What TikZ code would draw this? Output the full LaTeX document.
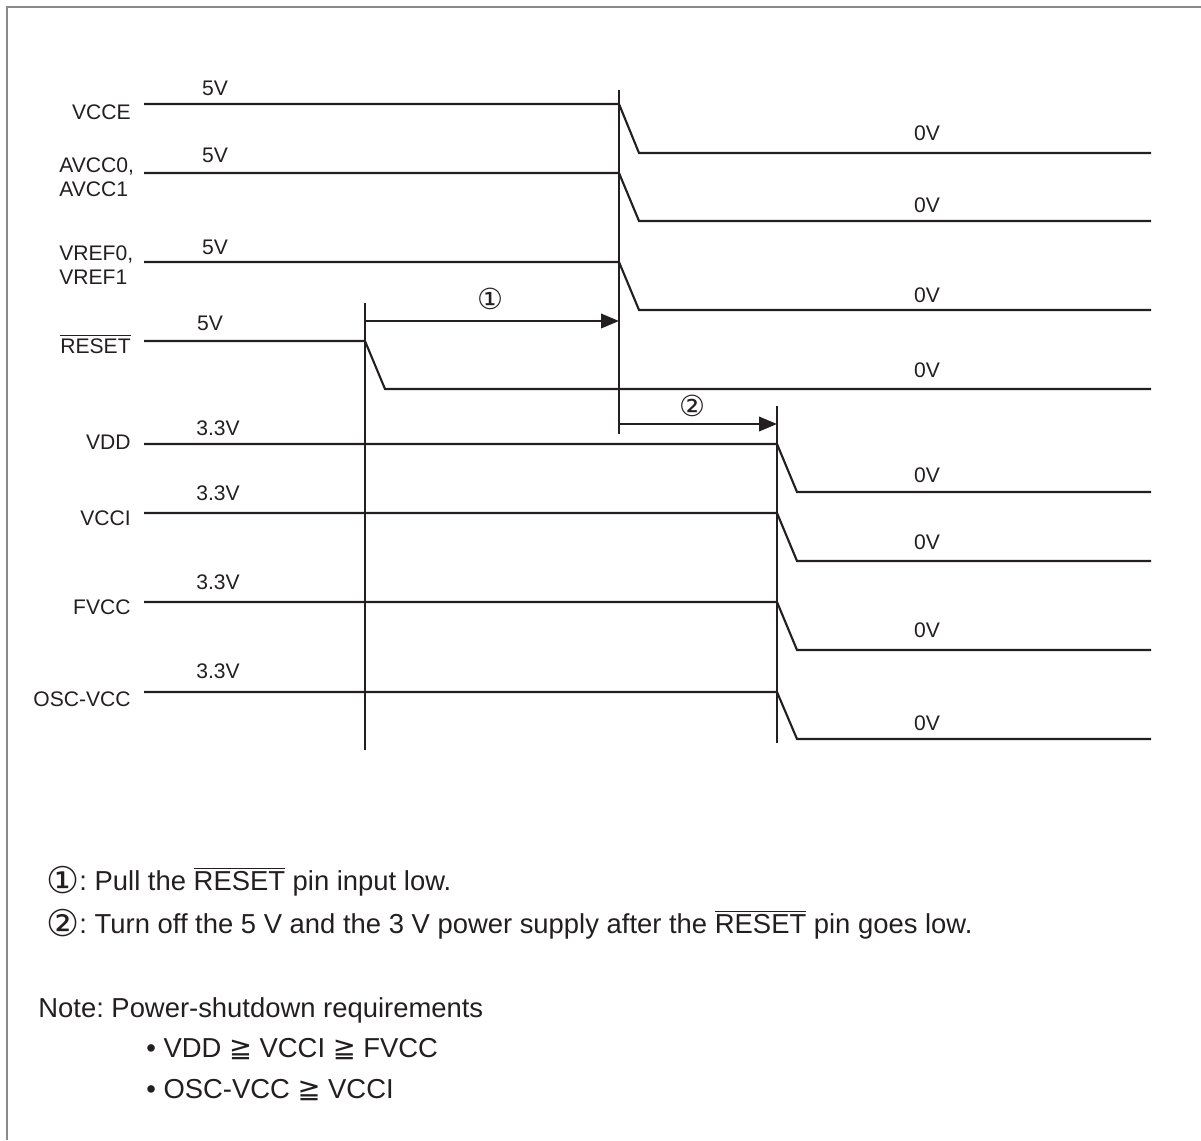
\documentclass[tikz,border=0pt]{standalone}
\usepackage{fontspec}
\setmainfont{Liberation Sans}
\newfontfamily\dejavu{DejaVu Sans}
\usetikzlibrary{arrows.meta,positioning,calc}
\frenchspacing
\definecolor{Ink}{HTML}{231F20}
\definecolor{Frame}{HTML}{8A8A8A}
\newcommand{\rstbar}{$\overline{\mbox{RESET}}$}
\newcommand{\gq}{{\dejavu ≧}}
\newcommand{\circno}[1]{\raisebox{-1.9pt}{\dejavu\fontsize{21}{21}\selectfont #1}}
\tikzset{
 sig/.style={draw=Ink,line width=1.2pt},
 guide/.style={draw=Ink,line width=0.6pt},
 span/.style={draw=Ink,line width=1.2pt,-{Triangle[length=3.6mm,width=2.9mm]}},
 lbl/.style={text=Ink,font=\fontsize{12}{13.6}\selectfont,inner sep=0pt},
 pin/.style={lbl,align=right},
 circnum/.style={lbl,font=\dejavu\fontsize{16.5}{17}\selectfont},
 note/.style={text=Ink,font=\fontsize{15.6}{18}\selectfont,inner sep=0pt,anchor=base west}
}

\begin{document}
\begin{tikzpicture}[x=0.2mm,y=-0.2mm]
\useasboundingbox (0,0) rectangle (1201,1140);
\draw[Frame,line width=0.8pt] (7,1140) -- (7,7) -- (1201,7);
% signal names
\node[pin,anchor=base east] (nVCCE) at (131,119) {VCCE};
\node[pin,anchor=west,align=left] (nAVCC) at (59,177) {AVCC0,\\AVCC1};
\node[pin,anchor=west,align=left] (nVREF) at (59,265) {VREF0,\\VREF1};
\node[pin,anchor=base east] (nRST) at (131,353) {\rstbar};
\node[pin,anchor=base east] (nVDD) at (131,449) {VDD};
\node[pin,anchor=base east] (nVCCI) at (131,525) {VCCI};
\node[pin,anchor=base east] (nFVCC) at (131,614) {FVCC};
\node[pin,anchor=base east] (nOSC) at (131,706) {OSC-VCC};
% levels and falling edges
\foreach \i/\hy/\ly/\fx/\zy in {1/104/153/619/133,2/173/221/619/205,3/262/310/619/295,4/341/389/365/370,
 5/444/492/777/475,6/513/561/777/542,7/602/650/777/630,8/692/739/777/723} {
 \coordinate (s\i) at (144,\hy);
 \coordinate (f\i) at (\fx,\hy);
 \coordinate (g\i) at ({\fx+20},\ly);
 \coordinate (t\i) at (1151,\ly);
 \draw[sig] (s\i) -- (f\i) -- (g\i) -- (t\i);
 \node[lbl] (low\i) at (927,\zy) {0V};
}
\foreach \i/\x/\y/\v in {1/215/88/5V,2/215/155/5V,3/215/247/5V,4/210/323/5V,
 5/218/428/3.3V,6/218/493/3.3V,7/218/582/3.3V,8/218/671/3.3V}
 \node[lbl] (high\i) at (\x,\y) {\v};
% timing marks
\coordinate (a0) at (365,303); \coordinate (a1) at (365,750);
\coordinate (b0) at (619,90);  \coordinate (b1) at (619,434);
\coordinate (c0) at (777,406); \coordinate (c1) at (777,743);
\draw[guide] (a0) -- (a1);
\draw[guide] (b0) -- (b1);
\draw[guide] (c0) -- (c1);
\coordinate (r0) at (365,321); \coordinate (r1) at (619,321);
\coordinate (q0) at (619,424); \coordinate (q1) at (777,424);
\draw[span] (r0) -- (r1);
\draw[span] (q0) -- (q1);
\node[circnum] (m1) at (490,299) {①};
\node[circnum] (m2) at (692,406) {②};
% notes
\node[note] (k1) at (46,890) {\circno{①}: Pull the \rstbar{} pin input low.};
\node[note] (k2) at (46,933) {\circno{②}: Turn off the 5 V and the 3 V power supply after the \rstbar{} pin goes low.};
\node[note] (k3) at (38,1017) {Note: Power-shutdown requirements};
\node[note] (k4) at (146,1057) {• VDD \gq{} VCCI \gq{} FVCC};
\node[note] (k5) at (146,1098) {• OSC-VCC \gq{} VCCI};
\end{tikzpicture}
\end{document}
